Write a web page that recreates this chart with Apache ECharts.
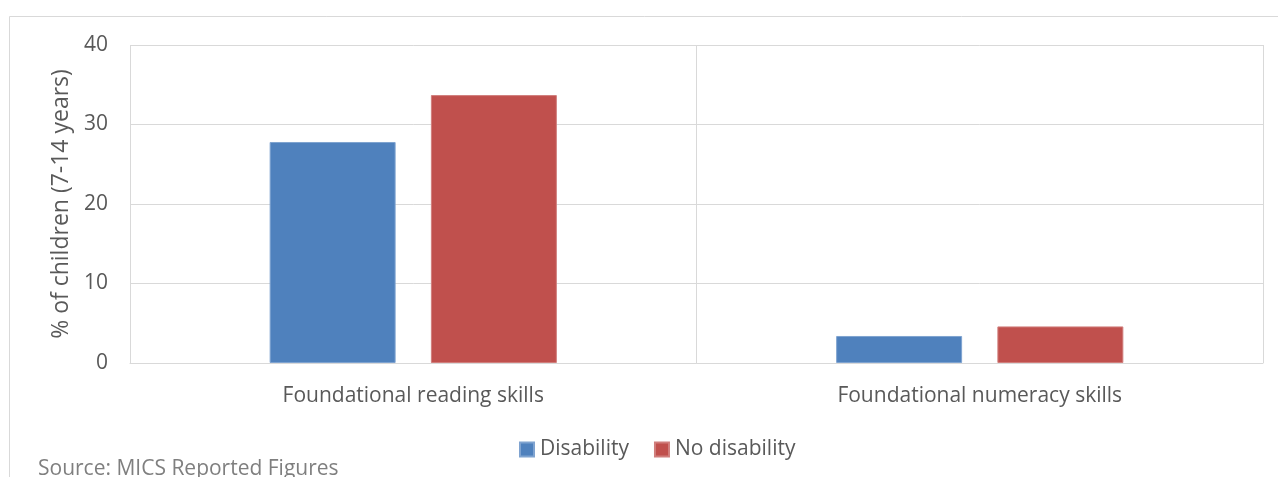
<!DOCTYPE html>
<html>
<head>
<meta charset="utf-8">
<script src="https://cdn.jsdelivr.net/npm/echarts@6/dist/echarts.min.js"></script>
<style>
  html, body { margin: 0; padding: 0; background: #ffffff; }
  #chart { width: 1278px; height: 477px; }
</style>
</head>
<body>
<div id="chart"></div>
<script>
// Share of children aged 7-14 with foundational skills, by disability status
const categories = ['Foundational reading skills', 'Foundational numeracy skills'];
const disability = [27.8, 3.4];
const noDisability = [33.7, 4.6];
const yTicks = { min: 0, max: 40, interval: 10 };
const seriesNames = ['Disability', 'No disability'];

const FONT = '"Open Sans", sans-serif';
const TEXT = '#595959';
const GRID_LINE = '#d9d9d9';

const chart = echarts.init(document.getElementById('chart'), null, { renderer: 'canvas' });

chart.setOption({
  backgroundColor: '#ffffff',
  animation: false,
  textStyle: { fontFamily: FONT },
  grid: { left: 130, right: 15, top: 45, bottom: 114, containLabel: false },
  legend: {
    data: seriesNames,
    left: 519,
    top: 439,
    padding: 0,
    itemWidth: 14,
    itemHeight: 14,
    itemGap: 25,
    icon: 'rect',
    textStyle: { fontFamily: FONT, fontSize: 21, color: TEXT, padding: [0, 0, 0, 1] }
  },
  xAxis: {
    type: 'category',
    data: categories,
    boundaryGap: true,
    axisLine: { show: true, lineStyle: { color: GRID_LINE, width: 1 } },
    axisTick: { show: false },
    splitLine: { show: true, lineStyle: { color: GRID_LINE, width: 1 } },
    axisLabel: { color: TEXT, fontSize: 21, fontFamily: FONT, margin: 23 }
  },
  yAxis: {
    type: 'value',
    min: yTicks.min,
    max: yTicks.max,
    interval: yTicks.interval,
    name: '% of children (7-14 years)',
    nameLocation: 'middle',
    nameGap: 56,
    nameTextStyle: { color: TEXT, fontSize: 23, fontFamily: FONT },
    axisLine: { show: false },
    axisTick: { show: false },
    splitLine: { show: true, lineStyle: { color: GRID_LINE, width: 1 } },
    axisLabel: { color: TEXT, fontSize: 21, fontFamily: FONT, margin: 22 }
  },
  series: [
    {
      name: seriesNames[0],
      type: 'bar',
      data: disability,
      barGap: '28%',
      barCategoryGap: '49.3%',
      itemStyle: { color: '#4f81bd', borderColor: '#7fa3d0', borderWidth: 1 }
    },
    {
      name: seriesNames[1],
      type: 'bar',
      data: noDisability,
      itemStyle: { color: '#c0504d', borderColor: '#d07e7c', borderWidth: 1 }
    }
  ],
  graphic: [
    {
      type: 'rect',
      silent: true,
      shape: { x: 9.5, y: 16.5, width: 1400, height: 600 },
      style: { fill: 'none', stroke: GRID_LINE, lineWidth: 1 },
      z: -1
    },
    {
      type: 'text',
      left: 38,
      top: 459,
      style: {
        text: 'Source: MICS Reported Figures',
        fill: '#7f7f7f',
        font: '21px ' + FONT
      }
    }
  ]
});
</script>
</body>
</html>
